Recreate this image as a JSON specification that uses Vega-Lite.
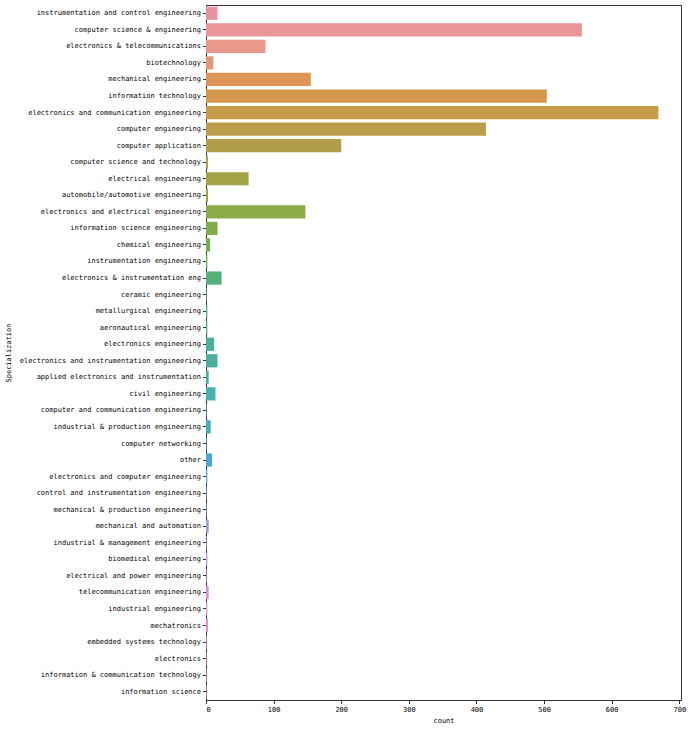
{
  "$schema": "https://vega.github.io/schema/vega-lite/v6.json",
  "width": 475,
  "height": 695,
  "autosize": {"type": "none"},
  "padding": {"left": 206, "top": 5, "right": 10, "bottom": 30},
  "background": "white",
  "config": {
    "view": {"stroke": "#333333", "strokeWidth": 1},
    "font": "DejaVu Sans Mono",
    "axis": {
      "labelFont": "DejaVu Sans Mono",
      "titleFont": "DejaVu Sans Mono",
      "labelFontSize": 7,
      "titleFontSize": 7,
      "titleFontWeight": "normal",
      "labelColor": "#000000",
      "titleColor": "#000000",
      "domainColor": "#333333",
      "tickColor": "#333333",
      "tickSize": 3.5,
      "labelPadding": 2,
      "grid": false
    }
  },
  "data": {
    "values": [
      {"Specialization": "instrumentation and control engineering", "count": 17},
      {"Specialization": "computer science & engineering", "count": 556},
      {"Specialization": "electronics & telecommunications", "count": 88},
      {"Specialization": "biotechnology", "count": 11},
      {"Specialization": "mechanical engineering", "count": 155},
      {"Specialization": "information technology", "count": 504},
      {"Specialization": "electronics and communication engineering", "count": 669},
      {"Specialization": "computer engineering", "count": 414},
      {"Specialization": "computer application", "count": 200},
      {"Specialization": "computer science and technology", "count": 3},
      {"Specialization": "electrical engineering", "count": 63},
      {"Specialization": "automobile/automotive engineering", "count": 3},
      {"Specialization": "electronics and electrical engineering", "count": 147},
      {"Specialization": "information science engineering", "count": 17},
      {"Specialization": "chemical engineering", "count": 6},
      {"Specialization": "instrumentation engineering", "count": 2},
      {"Specialization": "electronics & instrumentation eng", "count": 23},
      {"Specialization": "ceramic engineering", "count": 1},
      {"Specialization": "metallurgical engineering", "count": 2},
      {"Specialization": "aeronautical engineering", "count": 2},
      {"Specialization": "electronics engineering", "count": 12},
      {"Specialization": "electronics and instrumentation engineering", "count": 17},
      {"Specialization": "applied electronics and instrumentation", "count": 4},
      {"Specialization": "civil engineering", "count": 14},
      {"Specialization": "computer and communication engineering", "count": 1},
      {"Specialization": "industrial & production engineering", "count": 7},
      {"Specialization": "computer networking", "count": 1},
      {"Specialization": "other", "count": 9},
      {"Specialization": "electronics and computer engineering", "count": 2},
      {"Specialization": "control and instrumentation engineering", "count": 1},
      {"Specialization": "mechanical & production engineering", "count": 1},
      {"Specialization": "mechanical and automation", "count": 4},
      {"Specialization": "industrial & management engineering", "count": 1},
      {"Specialization": "biomedical engineering", "count": 2},
      {"Specialization": "electrical and power engineering", "count": 1},
      {"Specialization": "telecommunication engineering", "count": 4},
      {"Specialization": "industrial engineering", "count": 2},
      {"Specialization": "mechatronics", "count": 3},
      {"Specialization": "embedded systems technology", "count": 1},
      {"Specialization": "electronics", "count": 1},
      {"Specialization": "information & communication technology", "count": 1},
      {"Specialization": "information science", "count": 1}
    ]
  },
  "mark": {"type": "bar"},
  "encoding": {
    "y": {
      "field": "Specialization",
      "type": "nominal",
      "sort": null,
      "scale": {"paddingInner": 0.2, "paddingOuter": 0.1},
      "axis": {
        "title": "Specialization",
        "titleX": -198,
        "titleY": 347.5,
        "titleAngle": -90,
        "titleAlign": "center",
        "titleBaseline": "middle",
        "labelLimit": 300
      }
    },
    "x": {
      "field": "count",
      "type": "quantitative",
      "scale": {"domain": [0, 702.5], "nice": false},
      "axis": {
        "title": "count",
        "values": [0, 100, 200, 300, 400, 500, 600, 700],
        "titlePadding": 4
      }
    },
    "color": {
      "field": "Specialization",
      "type": "nominal",
      "sort": null,
      "legend": null,
      "scale": {
        "domain": [
          "instrumentation and control engineering", "computer science & engineering", "electronics & telecommunications", "biotechnology", "mechanical engineering", "information technology", "electronics and communication engineering", "computer engineering", "computer application", "computer science and technology", "electrical engineering", "automobile/automotive engineering", "electronics and electrical engineering", "information science engineering", "chemical engineering", "instrumentation engineering", "electronics & instrumentation eng", "ceramic engineering", "metallurgical engineering", "aeronautical engineering", "electronics engineering", "electronics and instrumentation engineering", "applied electronics and instrumentation", "civil engineering", "computer and communication engineering", "industrial & production engineering", "computer networking", "other", "electronics and computer engineering", "control and instrumentation engineering", "mechanical & production engineering", "mechanical and automation", "industrial & management engineering", "biomedical engineering", "electrical and power engineering", "telecommunication engineering", "industrial engineering", "mechatronics", "embedded systems technology", "electronics", "information & communication technology", "information science"
        ],
        "range": [
          "#e8939c", "#e9959a", "#e8998c", "#e3987a", "#dc9556", "#d2974a", "#c79a4a", "#bc9c4a", "#b29e4a", "#aaa047", "#a2a246", "#98a646", "#8daa48", "#80ad4b", "#70b04e", "#5eb15c", "#55b07a", "#52b084", "#4fb08c", "#4daf94", "#4bae9b", "#4aaea2", "#4aaea8", "#4aaeaf", "#4aadb6", "#49abbe", "#49a9c7", "#4ba6d3", "#5aa2df", "#6f9fe6", "#869fe9", "#9c9ee9", "#ae9ce8", "#bc99e7", "#c895e6", "#d292e3", "#dc8fdc", "#e28ed0", "#e68fc5", "#e890ba", "#e891b0", "#e892a6"
        ]
      }
    }
  }
}
